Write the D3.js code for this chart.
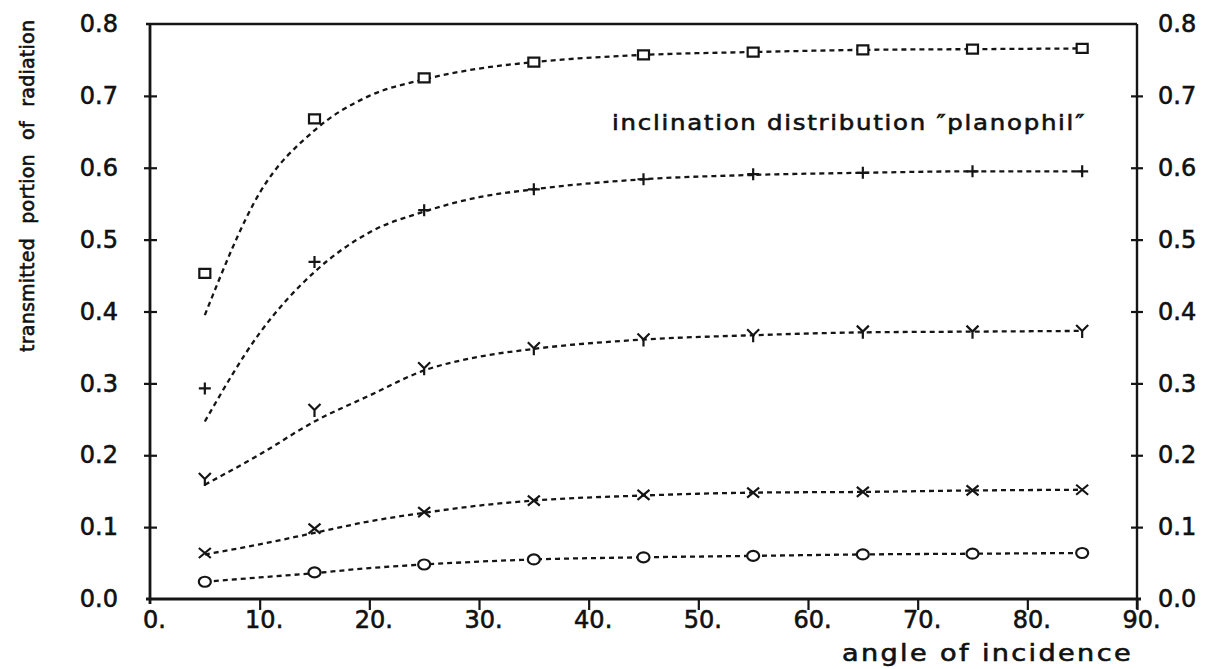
<!DOCTYPE html>
<html>
<head>
<meta charset="utf-8">
<script src="https://cdn.jsdelivr.net/npm/d3@7"></script>
<style>
  html, body { margin: 0; padding: 0; background: #fff; }
  svg { display: block; }
  text { font-family: "DejaVu Sans", sans-serif; fill: #111; stroke: #111; stroke-width: 0.6px; }
</style>
</head>
<body>
<svg id="chart" width="1213" height="669"></svg>
<script>
// Measured angles of incidence (degrees)
const angles = [5, 15, 25, 35, 45, 55, 65, 75, 85];

// Transmitted portion for five canopy cases (measured points)
const squarePts = [0.453, 0.668, 0.725, 0.747, 0.757, 0.761, 0.764, 0.765, 0.766];
const plusPts   = [0.293, 0.469, 0.541, 0.570, 0.584, 0.591, 0.593, 0.595, 0.595];
const yPts      = [0.167, 0.263, 0.321, 0.349, 0.361, 0.367, 0.372, 0.372, 0.373];
const xPts      = [0.064, 0.098, 0.121, 0.137, 0.145, 0.148, 0.149, 0.151, 0.152];
const oPts      = [0.024, 0.037, 0.048, 0.055, 0.058, 0.060, 0.062, 0.063, 0.064];

// Model curves, sampled at these angles
const curveAngles = [5, 10, 15, 20, 25, 30, 35, 45, 55, 65, 75, 85];
const squareFit = [0.395, 0.565, 0.652, 0.700, 0.723, 0.738, 0.747, 0.757, 0.761, 0.764, 0.765, 0.766];
const plusFit   = [0.247, 0.370, 0.455, 0.510, 0.539, 0.559, 0.570, 0.584, 0.590, 0.593, 0.595, 0.595];
const yFit      = [0.159, 0.201, 0.247, 0.283, 0.318, 0.337, 0.348, 0.361, 0.367, 0.371, 0.372, 0.373];
const xFit      = [0.062, 0.076, 0.092, 0.108, 0.120, 0.130, 0.137, 0.144, 0.148, 0.149, 0.151, 0.152];
const oFit      = [0.024, 0.030, 0.036, 0.043, 0.048, 0.052, 0.055, 0.058, 0.060, 0.062, 0.063, 0.064];

// Tick labels
const xTicks = [0, 10, 20, 30, 40, 50, 60, 70, 80, 90];
const xTickLabels = ["0.", "10.", "20.", "30.", "40.", "50.", "60.", "70.", "80.", "90."];
const yTicks = [0, 0.1, 0.2, 0.3, 0.4, 0.5, 0.6, 0.7, 0.8];
const yTickLabels = ["0.0", "0.1", "0.2", "0.3", "0.4", "0.5", "0.6", "0.7", "0.8"];

const series = [
  { pts: squarePts, fit: squareFit, marker: "square" },
  { pts: plusPts,   fit: plusFit,   marker: "plus" },
  { pts: yPts,      fit: yFit,      marker: "ymark" },
  { pts: xPts,      fit: xFit,      marker: "cross" },
  { pts: oPts,      fit: oFit,      marker: "circle" }
];

const svg = d3.select("#chart");
const ink = "#151515";

const x = d3.scaleLinear().domain([0, 90]).range([150, 1137]);
const y = d3.scaleLinear().domain([0, 0.8]).range([599, 24]);

// Frame
const frame = svg.append("g");
frame.append("line").attr("x1", x(0) - 4).attr("x2", x(90)).attr("y1", y(0.8)).attr("y2", y(0.8))
  .attr("stroke", ink).attr("stroke-width", 2.4);
frame.append("line").attr("x1", x(0) - 4).attr("x2", x(90) + 4).attr("y1", y(0)).attr("y2", y(0))
  .attr("stroke", ink).attr("stroke-width", 2.8);
frame.append("line").attr("x1", x(0)).attr("x2", x(0)).attr("y1", y(0) + 5).attr("y2", y(0.8))
  .attr("stroke", ink).attr("stroke-width", 2.8);
frame.append("line").attr("x1", x(90)).attr("x2", x(90)).attr("y1", y(0) + 10).attr("y2", y(0.8))
  .attr("stroke", ink).attr("stroke-width", 2.4);

// Left axis
const leftAxis = d3.axisLeft(y).tickValues(yTicks)
  .tickFormat((d, i) => yTickLabels[i]).tickSize(0).tickPadding(32);
const gl = svg.append("g").attr("transform", `translate(${x(0)},0)`).call(leftAxis);
gl.select(".domain").remove();
gl.selectAll("text").style("font-size", "24px").attr("fill", ink);
gl.selectAll(".tick").filter(d => d > 0 && d < 0.8).append("line")
  .attr("x1", -6).attr("x2", 7).attr("stroke", ink).attr("stroke-width", 2.2);

// Right axis
const rightAxis = d3.axisRight(y).tickValues(yTicks)
  .tickFormat((d, i) => yTickLabels[i]).tickSize(0).tickPadding(21);
const gr = svg.append("g").attr("transform", `translate(${x(90)},0)`).call(rightAxis);
gr.select(".domain").remove();
gr.selectAll("text").style("font-size", "24px").attr("fill", ink);
gr.selectAll(".tick").filter(d => d > 0 && d < 0.8).append("line")
  .attr("x1", -6).attr("x2", 6).attr("stroke", ink).attr("stroke-width", 2.2);

// Bottom axis
const bottomAxis = d3.axisBottom(x).tickValues(xTicks)
  .tickFormat((d, i) => xTickLabels[i]).tickSize(0).tickPadding(12);
const gb = svg.append("g").attr("transform", `translate(0,${y(0)})`).call(bottomAxis);
gb.select(".domain").remove();
gb.selectAll("text").style("font-size", "24px").attr("fill", ink).attr("dx", 4);
gb.selectAll(".tick").filter(d => d > 0).append("line")
  .attr("y1", -1).attr("y2", 11).attr("stroke", ink).attr("stroke-width", 2.2);

// Titles
svg.append("text")
  .attr("transform", `translate(34,${186}) rotate(-90)`)
  .attr("text-anchor", "middle")
  .attr("textLength", 332).attr("lengthAdjust", "spacing")
  .style("font-size", "19px").style("word-spacing", "8px")
  .text("transmitted portion of radiation");

svg.append("text")
  .attr("x", 842).attr("y", 661)
  .attr("textLength", 291).attr("lengthAdjust", "spacingAndGlyphs")
  .style("font-size", "23px").style("letter-spacing", "2px")
  .text("angle of incidence");

svg.append("text")
  .attr("x", 612).attr("y", 130)
  .attr("textLength", 474).attr("lengthAdjust", "spacingAndGlyphs")
  .style("font-size", "21px").style("letter-spacing", "1.5px")
  .text("inclination distribution \u2033planophil\u2033");

// Dashed model curves
const line = d3.line()
  .x(d => x(d[0])).y(d => y(d[1]))
  .curve(d3.curveMonotoneX);

svg.append("g").selectAll("path")
  .data(series)
  .join("path")
  .attr("d", s => line(curveAngles.map((a, i) => [a, s.fit[i]])))
  .attr("fill", "none")
  .attr("stroke", ink)
  .attr("stroke-width", 2.3)
  .attr("stroke-dasharray", "5,4");

// Marker shapes
const markerPath = {
  square: "M-5.5,-4.5H5.5V4.5H-5.5Z",
  plus:   "M-6,0H6M0,-6V6",
  ymark:  "M-6,-6L0,0L6,-6M0,0V7",
  cross:  "M-6,-5L6,5M-6,5L6,-5",
  circle: "M-6,0A6,5 0 1,0 6,0A6,5 0 1,0 -6,0Z"
};

const mg = svg.append("g");
series.forEach(s => {
  mg.append("g").selectAll("path")
    .data(angles.map((a, i) => [a, s.pts[i]]))
    .join("path")
    .attr("transform", d => `translate(${x(d[0])},${y(d[1])})`)
    .attr("d", markerPath[s.marker])
    .attr("fill", s.marker === "square" || s.marker === "circle" ? "#fff" : "none")
    .attr("stroke", ink)
    .attr("stroke-width", 2.2);
});
</script>
</body>
</html>
